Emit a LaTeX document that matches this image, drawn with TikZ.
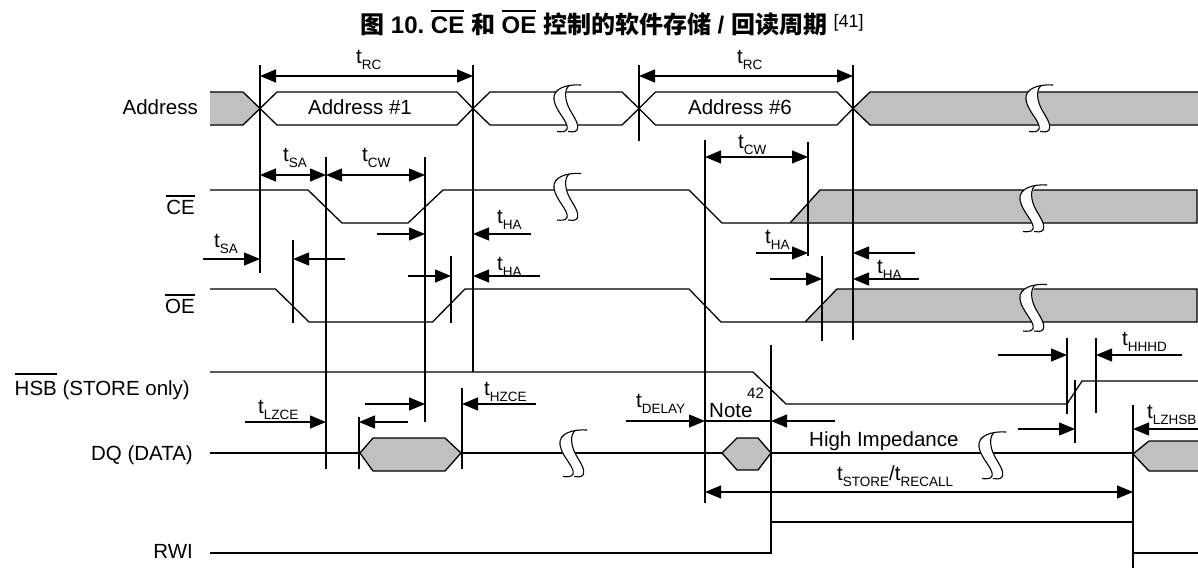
\documentclass[tikz,border=0pt]{standalone}
\usepackage{fontspec}
\setmainfont{Liberation Sans}
\newfontfamily\cjk{Noto Sans CJK SC}
\usetikzlibrary{arrows.meta}
\definecolor{busgray}{RGB}{192,192,192}
\newcommand\lf{\fontsize{20.5}{24}\selectfont}
\newcommand\tl[1]{t\raisebox{-6pt}{\fontsize{13.5}{14}\selectfont #1}}
\newcommand\ovlx[3]{\vbox{\hrule height #1\kern #2\hbox{#3}}}
\newcommand\brk[2]{%
 \begin{scope}[shift={(#1,#2)}]
  \fill[white] (6,-23) .. controls (-10,-22) and (-13,-14) .. (-12,-8) .. controls (-10,4) and (3,14) .. (1,21) -- (11,22) .. controls (14,16) and (7,8) .. (3,0) .. controls (-1,-8) and (-2,-18) .. (6,-23) -- cycle;
  \draw[brkline] (15,-23) .. controls (2,-24) and (-14,-20) .. (-12,-8) .. controls (-10,4) and (3,14) .. (1,21) .. controls (0,24) and (-5,24) .. (-9,23.5);
  \draw[brkline] (3,-22.5) .. controls (-2,-18) and (-1,-8) .. (3,0) .. controls (7,8) and (14,16) .. (11,22) .. controls (9,24.5) and (5,24) .. (2,23.5);
 \end{scope}}
\begin{document}
\begin{tikzpicture}[x=1pt,y=-1pt,
 sig/.style={line width=1.3pt,line join=miter},
 vref/.style={line width=1.2pt},
 arr/.style={line width=1.2pt,-{Triangle[length=16pt,width=13pt]}},
 darr/.style={line width=1.2pt,{Triangle[length=16pt,width=13pt]}-{Triangle[length=16pt,width=13pt]}},
 lab/.style={font=\lf,inner sep=0pt},
 brkline/.style={line width=1.1pt}]
\useasboundingbox (0,0) rectangle (1198,568);
\fill[white] (0,0) rectangle (1198,568);

% ---------- title
\node[anchor=base,inner sep=0pt,font=\fontsize{24}{28}\selectfont\bfseries] (title) at (612,33)
 {{\cjk 图} 10.\ \ovlx{2pt}{4pt}{CE} {\cjk 和} \ovlx{2pt}{4pt}{OE} {\cjk 控制的软件存储} / {\cjk 回读周期} \raisebox{6pt}{\mdseries\fontsize{18}{20}\selectfont [41]}};

% ---------- signal labels
\node[lab,anchor=base east] (lAddr) at (198,114) {Address};
\node[lab,anchor=base east] (lCE) at (195,214.5) {\ovlx{1.3pt}{3.5pt}{CE}};
\node[lab,anchor=base east] (lOE) at (195,313.5) {\ovlx{1.3pt}{3.5pt}{OE}};
\node[lab,anchor=base east] (lHSB) at (190,395) {\ovlx{1.3pt}{6pt}{HSB} (STORE only)};
\node[lab,anchor=base east] (lDQ) at (193,460) {DQ (DATA)};
\node[lab,anchor=base east] (lRWI) at (193,558) {RWI};

% ---------- Address bus
\fill[busgray] (210,92) -- (243,92) -- (260,108.5) -- (243,125) -- (210,125) -- cycle;
\draw[sig] (210,92) -- (243,92) -- (260,108.5) -- (243,125) -- (210,125);
\draw[sig] (260,108.5) -- (277,92) -- (457,92) -- (473,108.5) -- (457,125) -- (277,125) -- cycle;
\draw[sig] (473,108.5) -- (490,92) -- (622,92) -- (639,108.5) -- (622,125) -- (490,125) -- cycle;
\draw[sig] (639,108.5) -- (655.5,92) -- (837,92) -- (853,108.5) -- (837,125) -- (655.5,125) -- cycle;
\fill[busgray] (853,108.5) -- (870,92) -- (1198,92) -- (1198,125) -- (870,125) -- cycle;
\draw[sig] (1198,92) -- (870,92) -- (853,108.5) -- (870,125) -- (1198,125);
\node[lab,anchor=base] (a1) at (360,114) {Address \#1};
\node[lab,anchor=base] (a6) at (740,114) {Address \#6};

% ---------- CE
\fill[busgray] (790,223) -- (820,190) -- (1197,190) -- (1197,223) -- cycle;
\draw[sig] (210,190) -- (308,190) -- (342,223) -- (408,223) -- (443,190) -- (689,190) -- (722,223) -- (790,223) -- (820,190) -- (1197,190) -- (1197,223) -- (790,223);

% ---------- OE
\fill[busgray] (805,322) -- (837,289) -- (1197,289) -- (1197,322) -- cycle;
\draw[sig] (210,289) -- (275.5,289) -- (309,322) -- (432.5,322) -- (465,289) -- (689,289) -- (721,322) -- (805,322) -- (837,289) -- (1197,289) -- (1197,322) -- (805,322);

% ---------- HSB
\draw[sig] (210,372) -- (753,372) -- (786,404) -- (1067,404) -- (1082,381) -- (1198,381);

% ---------- DQ
\draw[sig] (210,453) -- (360,453);
\filldraw[sig,fill=busgray] (360,453) -- (373,438) -- (445,438) -- (461,453) -- (445,471) -- (373,471) -- cycle;
\draw[sig] (461,453) -- (722,453);
\filldraw[sig,fill=busgray] (722,453) -- (737,438) -- (758,438) -- (771,453) -- (758,470) -- (737,470) -- cycle;
\draw[sig] (771,453) -- (1133,453);
\fill[busgray] (1133,454) -- (1149,441) -- (1198,441) -- (1198,471) -- (1149,471) -- cycle;
\draw[sig] (1198,441) -- (1149,441) -- (1133,454) -- (1149,471) -- (1198,471);

% ---------- RWI
\draw[sig] (210,553) -- (771,553) -- (771,522) -- (1133,522) -- (1133,553) -- (1198,553);

% ---------- breaks
\brk{566}{108}
\brk{566}{196.5}
\brk{1038}{108}
\brk{1032}{208}
\brk{1032}{307.5}
\brk{572}{453}
\brk{991}{455}

% ---------- vertical reference lines
\draw[vref] (260,65) -- (260,273);
\draw[vref] (473,65) -- (473,372);
\draw[vref] (326,157) -- (326,469);
\draw[vref] (425,157) -- (425,422);
\draw[vref] (293,240) -- (293,323);
\draw[vref] (451,256) -- (451,323);
\draw[vref] (639,65) -- (639,141);
\draw[vref] (853,65) -- (853,340);
\draw[vref] (705,140) -- (705,503);
\draw[vref] (808,142) -- (808,256);
\draw[vref] (822,256) -- (822,341);
\draw[vref] (771,345) -- (771,553);
\draw[vref] (359,417) -- (359,469);
\draw[vref] (462,388) -- (462,469);
\draw[vref] (1067,338) -- (1067,414);
\draw[vref] (1096,338) -- (1096,413);
\draw[vref] (1075,380) -- (1075,443);
\draw[vref] (1133,405) -- (1133,568);

% ---------- dimension arrows
\draw[darr] (260,76) -- (473,76);
\draw[darr] (639,76) -- (853,76);
\draw[darr] (260,175) -- (326,175);
\draw[darr] (326,175) -- (425,175);
\draw[darr] (705,157) -- (808,157);
\draw[arr] (203,259) -- (260,259);
\draw[arr] (345,259) -- (293,259);
\draw[arr] (377,234) -- (425,234);
\draw[arr] (531,234) -- (473,234);
\draw[arr] (407.6,276) -- (451,276);
\draw[arr] (540,276) -- (473,276);
\draw[arr] (756,253) -- (808,253);
\draw[arr] (915,253) -- (853,253);
\draw[arr] (770,279) -- (822,279);
\draw[arr] (919,279) -- (853,279);
\draw[arr] (245,422) -- (326,422);
\draw[arr] (407.6,422) -- (359,422);
\draw[arr] (364.7,404) -- (425,404);
\draw[arr] (536,404) -- (462,404);
\draw[arr] (626,421) -- (705,421);
\draw[line width=1.2pt] (705,421) -- (771,421);
\draw[arr] (835,421) -- (771,421);
\draw[darr] (705,492) -- (1133,492);
\draw[arr] (998,355) -- (1067,355);
\draw[arr] (1182,355) -- (1096,355);
\draw[arr] (1018,429) -- (1075,429);
\draw[arr] (1198,429) -- (1133,429);

% ---------- timing labels
\node[lab,anchor=base west] (tRCa) at (356,63) {\tl{RC}};
\node[lab,anchor=base west] (tRCb) at (737,63) {\tl{RC}};
\node[lab,anchor=base west] (tSAa) at (283,161) {\tl{SA}};
\node[lab,anchor=base west] (tCWa) at (362,161) {\tl{CW}};
\node[lab,anchor=base west] (tCWb) at (738,148) {\tl{CW}};
\node[lab,anchor=base west] (tSAb) at (214,247) {\tl{SA}};
\node[lab,anchor=base west] (tHAa) at (497,223) {\tl{HA}};
\node[lab,anchor=base west] (tHAb) at (497,270) {\tl{HA}};
\node[lab,anchor=base west] (tHAc) at (765,243) {\tl{HA}};
\node[lab,anchor=base west] (tHAd) at (877,273) {\tl{HA}};
\node[lab,anchor=base west] (tHHHD) at (1122,345) {\tl{HHHD}};
\node[lab,anchor=base west] (tLZHSB) at (1147,418) {\tl{LZHSB}};
\node[lab,anchor=base west] (tHZCE) at (484,395) {\tl{HZCE}};
\node[lab,anchor=base west] (tLZCE) at (258,413) {\tl{LZCE}};
\node[lab,anchor=base west] (tDELAY) at (636,407) {\tl{DELAY}};
\node[lab,anchor=base west] (note) at (709,417) {Note};
\node[anchor=base west,inner sep=0pt,font=\fontsize{15}{16}\selectfont] (n42) at (747,398) {42};
\node[lab,anchor=base west] (hiz) at (809,446) {High Impedance};
\node[lab,anchor=base west] (tST) at (837,480) {\tl{STORE}/\tl{RECALL}};
\end{tikzpicture}
\end{document}
